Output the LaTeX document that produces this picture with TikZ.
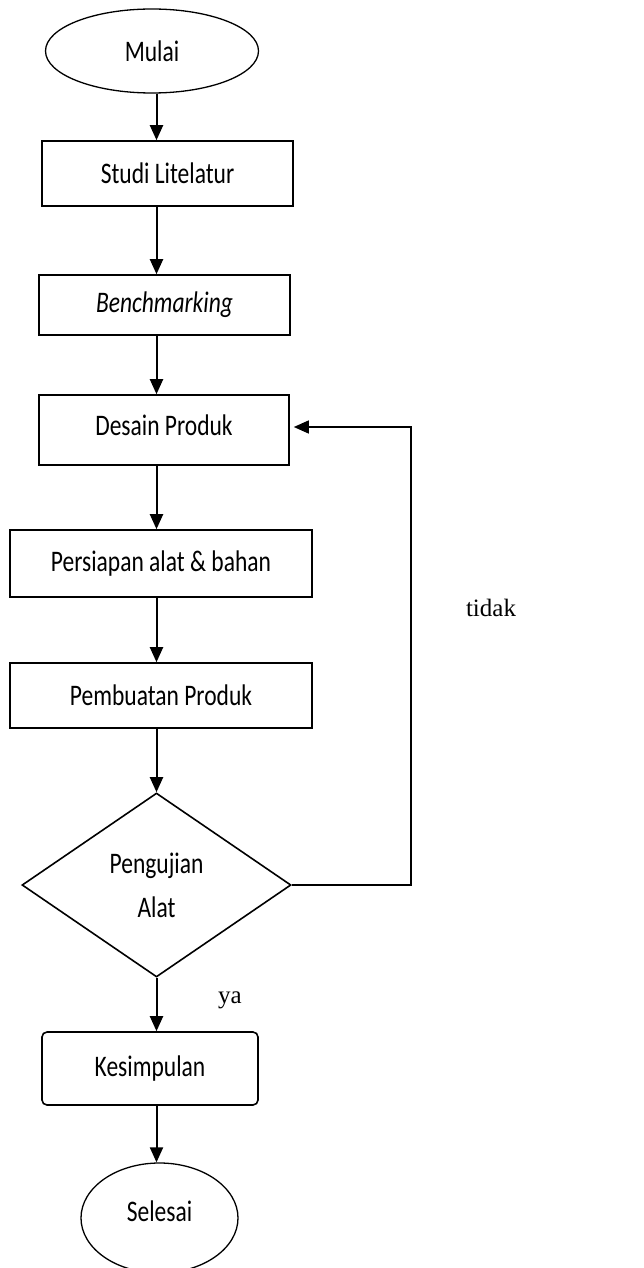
\documentclass[tikz,border=0pt]{standalone}
\usepackage{fontspec}
\setmainfont{Carlito}
\newfontfamily\timesfont{Liberation Serif}
\usetikzlibrary{shapes.geometric,arrows.meta}
\newcommand{\tinggi}[1]{\scalebox{1}[1.27]{#1}}

\begin{document}
\begin{tikzpicture}[x=1pt,y=1pt,
    proses/.style={draw, line width=1.6pt, inner sep=0pt, font=\fontsize{23.5}{28}\selectfont},
    terminal/.style={ellipse, draw, line width=1.3pt, inner sep=0pt, font=\fontsize{23.5}{28}\selectfont},
    arah/.style={-{Triangle[length=15pt,width=13pt]}, line width=2pt},
    ket/.style={font=\timesfont\fontsize{25}{30}\selectfont}]
    % Set bounding box
    \useasboundingbox (0,0) rectangle (644,-1268);

    % Draw nodes
    \node[terminal, minimum width=213pt, minimum height=84pt] (mulai) at (152,-51) {\tinggi{Mulai}};
    \node[proses, minimum width=251pt, minimum height=65pt] (studi) at (167.5,-173.5) {\tinggi{Studi Litelatur}};
    \node[proses, minimum width=251pt, minimum height=60pt] (bench) at (164.5,-305) {\tinggi{\itshape Benchmarking}};
    \node[proses, minimum width=250pt, minimum height=70pt, text depth=10pt] (desain) at (164,-430) {\tinggi{Desain Produk}};
    \node[proses, minimum width=302pt, minimum height=67pt] (persiapan) at (161,-563.5) {\tinggi{Persiapan alat \& bahan}};
    \node[proses, minimum width=302pt, minimum height=65pt] (pembuatan) at (161,-695.5) {\tinggi{Pembuatan Produk}};
    \node[proses, diamond, minimum width=269pt, minimum height=184pt, align=center,
        font=\fontsize{23.5}{44}\selectfont] (uji) at (156.5,-885) {\tinggi{Pengujian}\\\tinggi{Alat}};
    \node[proses, rounded corners=5pt, minimum width=216pt, minimum height=73pt] (simpul) at (150,-1068.5) {\tinggi{Kesimpulan}};
    \node[terminal, minimum width=157pt, minimum height=110pt, text depth=14pt] (selesai) at (159.5,-1218) {\tinggi{Selesai}};

    % Draw labels
    \node[ket] (tidak) at (491,-608) {tidak};
    \node[ket] (ya) at (230,-1000) {ya};

    % Draw arrows
    \draw[arah] (mulai.south -| uji) -- (studi.north -| uji);
    \draw[arah] (studi.south -| uji) -- (bench.north -| uji);
    \draw[arah] (bench.south -| uji) -- (desain.north -| uji);
    \draw[arah] (desain.south -| uji) -- (persiapan.north -| uji);
    \draw[arah] (persiapan.south -| uji) -- (pembuatan.north -| uji);
    \draw[arah] (pembuatan.south -| uji) -- (uji.north);
    \draw[arah] (uji.south) -- (simpul.north -| uji);
    \draw[arah] (simpul.south -| uji) -- (selesai.north -| uji);

    % Loop back
    \coordinate (belok) at (411,-885);
    \draw[arah, line width=1.4pt] (uji.east) -- (belok) |- ([xshift=4pt,yshift=3pt]desain.east);

\end{tikzpicture}
\end{document}
